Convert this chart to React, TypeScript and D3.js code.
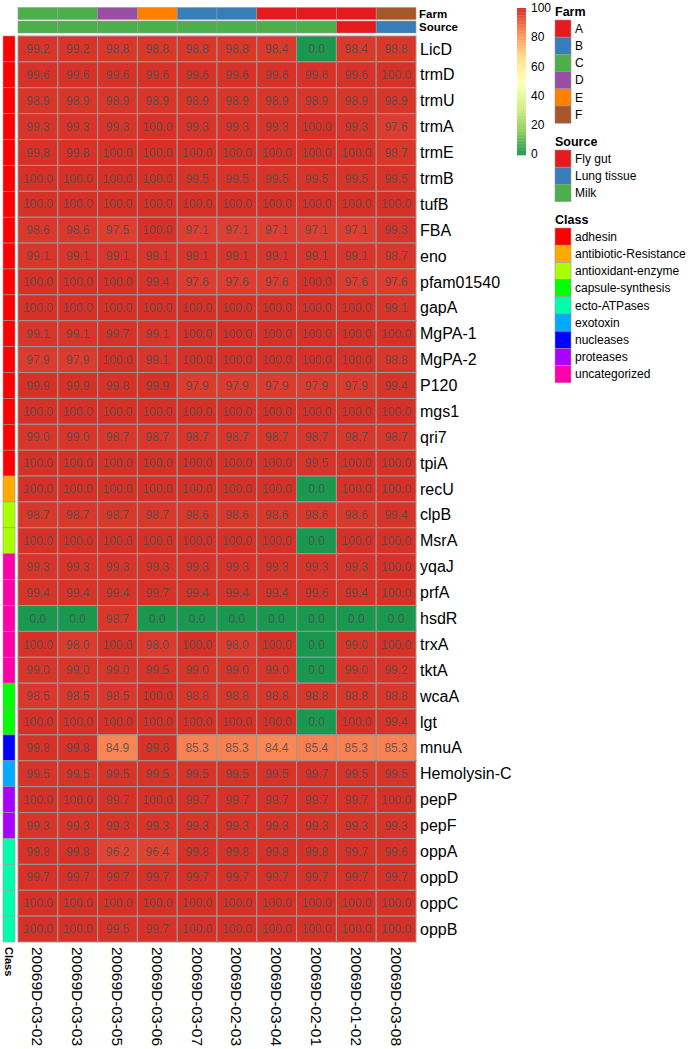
import React from "react";
import { scaleBand, scaleLinear, range } from "d3";

const samples = [
  "20069D-03-02", "20069D-03-03", "20069D-03-05", "20069D-03-06", "20069D-03-07",
  "20069D-02-03", "20069D-03-04", "20069D-02-01", "20069D-01-02", "20069D-03-08",
];
const sampleFarm = ["C", "C", "D", "E", "B", "B", "A", "A", "A", "F"];
const sampleSource = ["Milk", "Milk", "Milk", "Milk", "Milk", "Milk", "Milk", "Milk", "Fly gut", "Lung tissue"];

const genes = [
  "LicD", "trmD", "trmU", "trmA", "trmE", "trmB", "tufB", "FBA", "eno", "pfam01540", "gapA",
  "MgPA-1", "MgPA-2", "P120", "mgs1", "qri7", "tpiA", "recU", "clpB", "MsrA", "yqaJ", "prfA",
  "hsdR", "trxA", "tktA", "wcaA", "lgt", "mnuA", "Hemolysin-C", "pepP", "pepF", "oppA", "oppD",
  "oppC", "oppB",
];
const geneClass = [
  "adhesin", "adhesin", "adhesin", "adhesin", "adhesin", "adhesin", "adhesin", "adhesin", "adhesin",
  "adhesin", "adhesin", "adhesin", "adhesin", "adhesin", "adhesin", "adhesin", "adhesin",
  "antibiotic-Resistance", "antioxidant-enzyme", "antioxidant-enzyme",
  "uncategorized", "uncategorized", "uncategorized", "uncategorized", "uncategorized",
  "capsule-synthesis", "capsule-synthesis", "nucleases", "exotoxin", "proteases", "proteases",
  "ecto-ATPases", "ecto-ATPases", "ecto-ATPases", "ecto-ATPases",
];

const identity = [
  [99.2, 99.2, 98.8, 98.8, 98.8, 98.8, 98.4, 0.0, 98.4, 98.8],
  [99.6, 99.6, 99.6, 99.6, 99.6, 99.6, 99.6, 99.6, 99.6, 100.0],
  [98.9, 98.9, 98.9, 98.9, 98.9, 98.9, 98.9, 98.9, 98.9, 98.9],
  [99.3, 99.3, 99.3, 100.0, 99.3, 99.3, 99.3, 100.0, 99.3, 97.6],
  [99.8, 99.8, 100.0, 100.0, 100.0, 100.0, 100.0, 100.0, 100.0, 98.7],
  [100.0, 100.0, 100.0, 100.0, 99.5, 99.5, 99.5, 99.5, 99.5, 99.5],
  [100.0, 100.0, 100.0, 100.0, 100.0, 100.0, 100.0, 100.0, 100.0, 100.0],
  [98.6, 98.6, 97.5, 100.0, 97.1, 97.1, 97.1, 97.1, 97.1, 99.3],
  [99.1, 99.1, 99.1, 99.1, 99.1, 99.1, 99.1, 99.1, 99.1, 98.7],
  [100.0, 100.0, 100.0, 99.4, 97.6, 97.6, 97.6, 100.0, 97.6, 97.6],
  [100.0, 100.0, 100.0, 100.0, 100.0, 100.0, 100.0, 100.0, 100.0, 99.1],
  [99.1, 99.1, 99.7, 99.1, 100.0, 100.0, 100.0, 100.0, 100.0, 100.0],
  [97.9, 97.9, 100.0, 99.1, 100.0, 100.0, 100.0, 100.0, 100.0, 98.8],
  [99.9, 99.9, 99.8, 99.9, 97.9, 97.9, 97.9, 97.9, 97.9, 99.4],
  [100.0, 100.0, 100.0, 100.0, 100.0, 100.0, 100.0, 100.0, 100.0, 100.0],
  [99.0, 99.0, 98.7, 98.7, 98.7, 98.7, 98.7, 98.7, 98.7, 98.7],
  [100.0, 100.0, 100.0, 100.0, 100.0, 100.0, 100.0, 99.5, 100.0, 100.0],
  [100.0, 100.0, 100.0, 100.0, 100.0, 100.0, 100.0, 0.0, 100.0, 100.0],
  [98.7, 98.7, 98.7, 98.7, 98.6, 98.6, 98.6, 98.6, 98.6, 99.4],
  [100.0, 100.0, 100.0, 100.0, 100.0, 100.0, 100.0, 0.0, 100.0, 100.0],
  [99.3, 99.3, 99.3, 99.3, 99.3, 99.3, 99.3, 99.3, 99.3, 100.0],
  [99.4, 99.4, 99.4, 99.7, 99.4, 99.4, 99.4, 99.6, 99.4, 100.0],
  [0.0, 0.0, 98.7, 0.0, 0.0, 0.0, 0.0, 0.0, 0.0, 0.0],
  [100.0, 98.0, 100.0, 98.0, 100.0, 98.0, 100.0, 0.0, 99.0, 100.0],
  [99.0, 99.0, 99.0, 99.5, 99.0, 99.0, 99.0, 0.0, 99.0, 99.2],
  [98.5, 98.5, 98.5, 100.0, 98.8, 98.8, 98.8, 98.8, 98.8, 98.8],
  [100.0, 100.0, 100.0, 100.0, 100.0, 100.0, 100.0, 0.0, 100.0, 99.4],
  [99.8, 99.8, 84.9, 99.6, 85.3, 85.3, 84.4, 85.4, 85.3, 85.3],
  [99.5, 99.5, 99.5, 99.5, 99.5, 99.5, 99.5, 99.7, 99.5, 99.5],
  [100.0, 100.0, 99.7, 100.0, 99.7, 99.7, 99.7, 99.7, 99.7, 100.0],
  [99.3, 99.3, 99.3, 99.3, 99.3, 99.3, 99.3, 99.3, 99.3, 99.3],
  [99.8, 99.8, 96.2, 96.4, 99.8, 99.8, 99.8, 99.8, 99.7, 99.6],
  [99.7, 99.7, 99.7, 99.7, 99.7, 99.7, 99.7, 99.7, 99.7, 99.7],
  [100.0, 100.0, 100.0, 100.0, 100.0, 100.0, 100.0, 100.0, 100.0, 100.0],
  [100.0, 100.0, 99.5, 99.7, 100.0, 100.0, 100.0, 100.0, 100.0, 100.0],
];

const farms = ["A", "B", "C", "D", "E", "F"];
const farmColors = ["#E41A1C", "#377EB8", "#4DAF4A", "#984EA3", "#FF7F00", "#A65628"];
const sources = ["Fly gut", "Lung tissue", "Milk"];
const sourceColors = ["#E41A1C", "#377EB8", "#4DAF4A"];
const classes = [
  "adhesin", "antibiotic-Resistance", "antioxidant-enzyme", "capsule-synthesis",
  "ecto-ATPases", "exotoxin", "nucleases", "proteases", "uncategorized",
];
const classColors = [
  "#FF0000", "#FFAA00", "#AAFF00", "#00FF00", "#00FFAA", "#00AAFF", "#0000FF", "#AA00FF", "#FF00AA",
];
const heatStops = ["#1A9850", "#91CF60", "#D9EF8B", "#FFFFBF", "#FEE08B", "#FC8D59", "#D73027"];
const legendTicks = [0, 20, 40, 60, 80, 100];

const font = "'Liberation Sans', Arial, Helvetica, sans-serif";
const border = "#999999";

export default function App() {
  const width = 690;
  const height = 1049;
  const heat = { left: 18, right: 416, top: 36, bottom: 942 };

  const x = scaleBand<string>().domain(samples).range([heat.left, heat.right]);
  const y = scaleBand<string>().domain(genes).range([heat.top, heat.bottom]);
  const color = scaleLinear<string>()
    .domain(heatStops.map((_, i) => (i * 100) / (heatStops.length - 1)))
    .range(heatStops)
    .clamp(true);
  const farmColor = (f: string) => farmColors[farms.indexOf(f)];
  const sourceColor = (s: string) => sourceColors[sources.indexOf(s)];
  const classColor = (c: string) => classColors[classes.indexOf(c)];

  // colour key
  const keyY = scaleLinear().domain([0, 100]).range([155, 8]);
  const keySteps = range(0, 100);
  const keyTick = scaleLinear().domain([0, 100]).range([154, 8]);

  const itemH = 17.2;
  const legX = 555;

  const legendBlock = (title: string, items: string[], colors: string[], top: number) => (
    <g transform={`translate(${legX},${top})`}>
      <text x={0} y={-4} fontWeight="bold" fontSize={12.5}>
        {title}
      </text>
      {items.map((it, i) => (
        <g key={it} transform={`translate(0,${i * itemH})`}>
          <rect width={16} height={itemH} fill={colors[i]} stroke={border} strokeWidth={0.6} />
          <text x={20} y={itemH / 2} dy="0.35em" fontSize={12}>
            {it}
          </text>
        </g>
      ))}
    </g>
  );

  return (
    <svg
      width={width}
      height={height}
      style={{ position: "absolute", left: 0, top: 0, background: "#fff" }}
      fontFamily={font}
    >
      {/* column annotations */}
      {samples.map((s, i) => (
        <g key={s}>
          <rect x={x(s)} y={7.5} width={x.bandwidth()} height={12} fill={farmColor(sampleFarm[i])} stroke={border} strokeWidth={0.6} />
          <rect x={x(s)} y={21} width={x.bandwidth()} height={12} fill={sourceColor(sampleSource[i])} stroke={border} strokeWidth={0.6} />
        </g>
      ))}
      <text x={419} y={13.5} dy="0.35em" fontWeight="bold" fontSize={11.5}>Farm</text>
      <text x={419} y={27} dy="0.35em" fontWeight="bold" fontSize={11.5}>Source</text>

      {/* row annotation */}
      {genes.map((g, i) => (
        <rect key={g} x={3} y={y(g)} width={12} height={y.bandwidth()} fill={classColor(geneClass[i])} stroke={border} strokeWidth={0.6} />
      ))}
      <text transform={`translate(5,947) rotate(90)`} fontWeight="bold" fontSize={11}>Class</text>

      {/* heatmap cells */}
      {genes.map((g, r) =>
        samples.map((s, c) => (
          <g key={g + s}>
            <rect x={x(s)} y={y(g)} width={x.bandwidth()} height={y.bandwidth()} fill={color(identity[r][c])} stroke={border} strokeWidth={1} />
            <text
              x={(x(s) as number) + x.bandwidth() / 2}
              y={(y(g) as number) + y.bandwidth() / 2}
              dy="0.35em"
              textAnchor="middle"
              fontSize={12}
              fill="#4D4D4D"
              fillOpacity={0.85}
            >
              {identity[r][c].toFixed(1)}
            </text>
          </g>
        ))
      )}

      {/* row labels */}
      {genes.map((g) => (
        <text key={g} x={420} y={(y(g) as number) + y.bandwidth() / 2} dy="0.35em" fontSize={16}>
          {g}
        </text>
      ))}

      {/* column labels */}
      {samples.map((s) => (
        <text
          key={s}
          transform={`translate(${(x(s) as number) + x.bandwidth() / 2},947) rotate(90)`}
          dy="0.35em"
          fontSize={15.5}
        >
          {s}
        </text>
      ))}

      {/* colour key */}
      {keySteps.map((v) => (
        <rect key={v} x={517} y={keyY(v + 1)} width={9} height={keyY(v) - keyY(v + 1) + 0.3} fill={color(v + 0.5)} />
      ))}
      {legendTicks.map((t) => (
        <text key={t} x={531} y={keyTick(t)} dy="0.35em" fontSize={12}>
          {t}
        </text>
      ))}

      {legendBlock("Farm", farms, farmColors, 20)}
      {legendBlock("Source", sources, sourceColors, 150)}
      {legendBlock("Class", classes, classColors, 228)}
    </svg>
  );
}
